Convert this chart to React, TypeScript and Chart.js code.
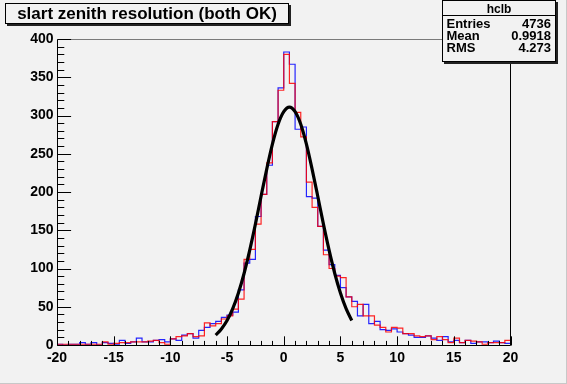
import React, { useEffect, useRef } from 'react';
import { Chart, registerables } from 'chart.js';

Chart.register(...registerables);

// ---- data ----
const TITLE = 'slart zenith resolution (both OK)';
const STATS_NAME = 'hclb';
const STATS_LABELS = ['Entries', 'Mean', 'RMS'];
const STATS_VALUES = ['4736', '0.9918', '4.273'];

const X_MIN = -20;
const X_MAX = 20;
const BIN_WIDTH = 0.5;
const Y_MIN = 0;
const Y_MAX = 400;
const X_TICK_STEP = 5;
const Y_TICK_STEP = 50;

// counts per 0.5-wide bin, from -20 to 20 (80 bins)
const blueCounts = [
  1, 0, 1, 1, 3, 1, 3, 0, 3, 2,
  1, 6, 2, 4, 9, 4, 4, 6, 7, 4,
  8, 6, 13, 15, 9, 19, 23, 28, 31, 36,
  39, 43, 72, 107, 112, 168, 197, 235, 292, 336,
  383, 367, 282, 285, 194, 192, 155, 124, 105, 91,
  75, 63, 57, 38, 53, 28, 31, 20, 19, 21,
  17, 15, 13, 10, 10, 12, 9, 6, 11, 4,
  6, 3, 6, 2, 4, 4, 3, 5, 3, 2,
];
const redCounts = [
  1, 1, 1, 1, 1, 1, 1, 1, 4, 1,
  2, 3, 3, 4, 4, 4, 5, 6, 3, 1,
  8, 11, 12, 15, 11, 12, 29, 25, 28, 34,
  38, 47, 60, 112, 125, 158, 197, 238, 292, 333,
  380, 342, 304, 272, 213, 180, 155, 118, 100, 90,
  88, 63, 50, 53, 38, 38, 26, 23, 17, 23,
  22, 15, 15, 12, 11, 12, 7, 11, 7, 3,
  9, 3, 6, 5, 4, 1, 3, 3, 3, 6,
];

// gaussian fit curve, read at 0.5 steps
const fitX = [-6, -5.5, -5, -4.5, -4, -3.5, -3, -2.5, -2, -1.5, -1, -0.5, 0, 0.5, 1, 1.5, 2, 2.5, 3, 3.5, 4, 4.5, 5, 5.5, 6];
const fitY = [13, 21, 32, 47.5, 68, 93.5, 124, 158, 194.5, 230, 262.5, 288.5, 305, 311, 305, 288.5, 262.5, 230, 194.5, 158, 124, 93.5, 68, 47.5, 32];

const BG = '#f2f2f2';
const FONT = "'Liberation Sans', Arial, Helvetica, sans-serif";

function histPoints(counts: number[]) {
  const pts = counts.map((c, i) => ({ x: X_MIN + i * BIN_WIDTH, y: c }));
  pts.push({ x: X_MIN + counts.length * BIN_WIDTH, y: counts[counts.length - 1] });
  return pts;
}

const rootPlugin = {
  id: 'rootStyle',
  beforeDraw(chart: any) {
    const ctx = chart.ctx;
    ctx.save();
    ctx.fillStyle = BG;
    ctx.fillRect(0, 0, chart.width, chart.height);
    ctx.fillStyle = '#c8c8c8';
    ctx.fillRect(chart.width - 1, 0, 1, chart.height);
    ctx.fillRect(0, chart.height - 1, chart.width, 1);
    ctx.restore();
  },
  afterDatasetsDraw(chart: any) {
    const ctx = chart.ctx;
    const a = chart.chartArea;
    const xs = chart.scales.x;
    const ys = chart.scales.y;
    const L = Math.round(a.left) + 0.5;
    const R = Math.round(a.right) - 0.5;
    const T = Math.round(a.top) + 0.5;
    const B = Math.round(a.bottom) + 0.5;
    ctx.save();
    ctx.lineWidth = 1;
    // top frame line (gray)
    ctx.strokeStyle = '#7a7a7a';
    ctx.beginPath();
    ctx.moveTo(L, T);
    ctx.lineTo(R, T);
    ctx.stroke();
    // axes and right frame
    ctx.strokeStyle = '#000';
    ctx.beginPath();
    ctx.moveTo(L, T);
    ctx.lineTo(L, B);
    ctx.lineTo(R, B);
    ctx.lineTo(R, T);
    ctx.stroke();
    // x ticks (inward)
    const xLen = (a.bottom - a.top) * 0.03;
    ctx.beginPath();
    for (let v = X_MIN; v <= X_MAX; v += 1) {
      const px = Math.round(xs.getPixelForValue(v)) + 0.5;
      const len = v % X_TICK_STEP === 0 ? xLen : xLen / 2;
      ctx.moveTo(px, B);
      ctx.lineTo(px, B - len);
    }
    ctx.stroke();
    // y ticks (inward)
    const yLen = (a.right - a.left) * 0.03;
    ctx.beginPath();
    for (let v = Y_MIN; v <= Y_MAX; v += 10) {
      const py = Math.round(ys.getPixelForValue(v)) + 0.5;
      const len = v % Y_TICK_STEP === 0 ? yLen : yLen / 2;
      ctx.moveTo(L, py);
      ctx.lineTo(L + len, py);
    }
    ctx.stroke();
    ctx.restore();
  },
  afterDraw(chart: any) {
    const ctx = chart.ctx;
    ctx.save();
    // title box
    const tb = { x: 5, y: 3, w: 283, h: 20 };
    ctx.fillStyle = '#222';
    ctx.fillRect(tb.x + 2, tb.y + 2, tb.w + 1, tb.h + 1);
    ctx.fillStyle = BG;
    ctx.fillRect(tb.x, tb.y, tb.w, tb.h);
    ctx.strokeStyle = '#000';
    ctx.lineWidth = 1;
    ctx.strokeRect(tb.x + 0.5, tb.y + 0.5, tb.w, tb.h);
    ctx.fillStyle = '#000';
    ctx.font = `bold 17px ${FONT}`;
    ctx.textAlign = 'center';
    ctx.textBaseline = 'alphabetic';
    ctx.fillText(TITLE, tb.x + tb.w / 2 + 0.5, 19.3);

    // stats box
    const sb = { x: 442, y: 0, w: 113, h: 61 };
    ctx.fillStyle = '#222';
    ctx.fillRect(sb.x + 2, sb.y + 2, sb.w + 1, sb.h + 1);
    ctx.fillStyle = BG;
    ctx.fillRect(sb.x, sb.y, sb.w, sb.h);
    ctx.strokeStyle = '#000';
    ctx.strokeRect(sb.x + 0.5, sb.y + 0.5, sb.w, sb.h);
    ctx.beginPath();
    ctx.moveTo(sb.x, 15.5);
    ctx.lineTo(sb.x + sb.w, 15.5);
    ctx.stroke();
    ctx.fillStyle = '#000';
    ctx.font = `bold 12px ${FONT}`;
    ctx.textAlign = 'center';
    ctx.fillText(STATS_NAME, sb.x + sb.w / 2 + 0.5, 13.3);
    ctx.font = `bold 13px ${FONT}`;
    const rowsY = [28.3, 40, 51.7];
    STATS_LABELS.forEach((lab, i) => {
      ctx.textAlign = 'left';
      ctx.fillText(lab, 446.5, rowsY[i]);
      ctx.textAlign = 'right';
      ctx.fillText(STATS_VALUES[i], 551, rowsY[i]);
    });
    ctx.restore();
  },
};

export default function App() {
  const ref = useRef<HTMLCanvasElement>(null);
  useEffect(() => {
    const canvas = ref.current!;
    const tickFont = { family: FONT, size: 14, weight: 'bold' as const };
    const chart = new Chart(canvas, {
      type: 'line',
      data: {
        datasets: [
          {
            label: 'fit',
            data: fitX.map((x, i) => ({ x, y: fitY[i] })),
            borderColor: '#000',
            borderWidth: 3.2,
            pointRadius: 0,
            cubicInterpolationMode: 'monotone',
            order: 0,
          },
          {
            label: 'red',
            data: histPoints(redCounts),
            borderColor: 'rgba(255,0,0,0.85)',
            borderWidth: 1.2,
            pointRadius: 0,
            stepped: 'before',
            order: 1,
          },
          {
            label: 'blue',
            data: histPoints(blueCounts),
            borderColor: 'rgba(0,0,255,0.85)',
            borderWidth: 1.2,
            pointRadius: 0,
            stepped: 'before',
            order: 2,
          },
        ] as any,
      },
      options: {
        animation: false,
        responsive: false,
        maintainAspectRatio: false,
        devicePixelRatio: 1,
        layout: { padding: { left: 0, right: 56.5, top: 39, bottom: 0 } },
        plugins: {
          legend: { display: false },
          tooltip: { enabled: false },
          title: { display: false },
        },
        scales: {
          x: {
            type: 'linear',
            min: X_MIN,
            max: X_MAX,
            grid: { display: false, drawTicks: false },
            border: { display: false },
            ticks: {
              stepSize: X_TICK_STEP,
              autoSkip: false,
              maxRotation: 0,
              padding: 5,
              color: '#000',
              font: tickFont,
            },
            afterFit: (s: any) => {
              s.height = 39;
            },
          },
          y: {
            type: 'linear',
            min: Y_MIN,
            max: Y_MAX,
            grid: { display: false, drawTicks: false },
            border: { display: false },
            ticks: {
              stepSize: Y_TICK_STEP,
              autoSkip: false,
              padding: 3.5,
              color: '#000',
              font: tickFont,
            },
            afterFit: (s: any) => {
              s.width = 57;
            },
          },
        },
      },
      plugins: [rootPlugin],
    });
    return () => chart.destroy();
  }, []);
  return (
    <div style={{ position: 'fixed', left: 0, top: 0, width: 567, height: 384, background: BG }}>
      <canvas ref={ref} width={567} height={384} style={{ display: 'block', width: 567, height: 384 }} />
    </div>
  );
}
